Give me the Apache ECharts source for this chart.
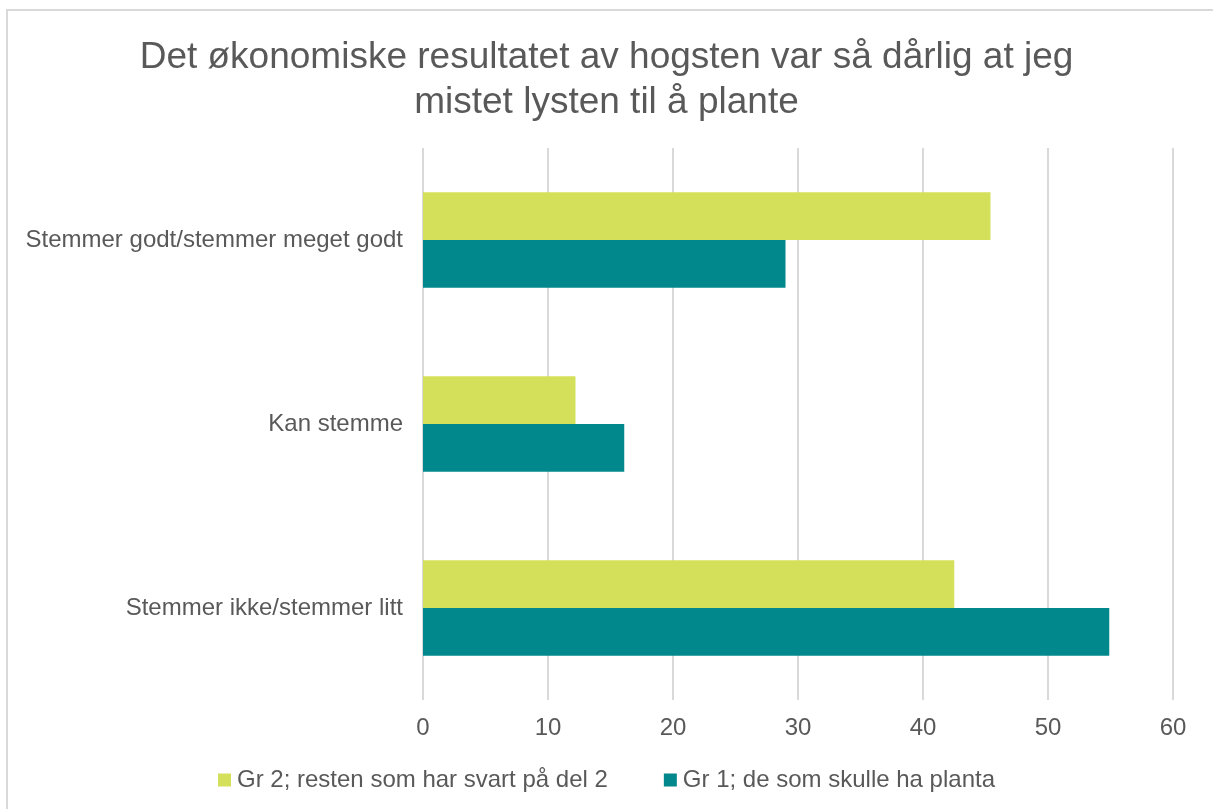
<!DOCTYPE html>
<html>
<head>
<meta charset="utf-8">
<script src="https://cdn.jsdelivr.net/npm/echarts@6/dist/echarts.min.js"></script>
<style>
  html, body { margin: 0; padding: 0; background: #fff; }
  #chart { width: 1213px; height: 809px; }
</style>
</head>
<body>
<div id="chart"></div>
<script>
// kategorier og verdier lest av figuren
const categories = ["Stemmer godt/stemmer meget godt", "Kan stemme", "Stemmer ikke/stemmer litt"];
const gr2Name = "Gr 2; resten som har svart på del 2";
const gr1Name = "Gr 1; de som skulle ha planta";
const gr2Values = [45.4, 12.2, 42.5];
const gr1Values = [29.0, 16.1, 54.9];

const textColor = "#595959";

const chart = echarts.init(document.getElementById("chart"), null, { renderer: "canvas" });

const option = {
    backgroundColor: "#ffffff",
    animation: false,
    title: {
        text: "Det økonomiske resultatet av hogsten var så dårlig at jeg\nmistet lysten til å plante",
        left: "center",
        top: 30,
        textStyle: {
            fontFamily: "Liberation Sans",
            fontSize: 37,
            fontWeight: "normal",
            color: textColor,
            lineHeight: 45,
        },
    },
    legend: {
        top: 763,
        left: "center",
        itemWidth: 13,
        itemHeight: 13,
        itemGap: 56,
        icon: "rect",
        textStyle: { fontFamily: "Liberation Sans", fontSize: 24, color: textColor, padding: [0, 0, 0, 1] },
        data: [gr2Name, gr1Name],
    },
    grid: { left: 423, right: 40, top: 148, bottom: 109 },
    xAxis: {
        type: "value",
        min: 0,
        max: 60,
        interval: 10,
        axisLine: { show: false },
        axisTick: { show: false },
        axisLabel: { fontFamily: "Liberation Sans", fontSize: 24, color: textColor, margin: 16 },
        splitLine: { lineStyle: { color: "#d9d9d9", width: 2 } },
    },
    yAxis: {
        type: "category",
        inverse: true,
        data: categories,
        axisLine: { show: false },
        axisTick: { show: false },
        axisLabel: { fontFamily: "Liberation Sans", fontSize: 24, color: textColor, margin: 20 },
    },
    series: [
        {
            name: gr2Name,
            type: "bar",
            data: gr2Values,
            barGap: "0%",
            barCategoryGap: "48%",
            itemStyle: { color: "#d4e05a" },
        },
        {
            name: gr1Name,
            type: "bar",
            data: gr1Values,
            barGap: "0%",
            barCategoryGap: "48%",
            itemStyle: { color: "#00888c" },
        },
    ],
    graphic: [
        {
            type: "rect",
            shape: { x: 7, y: 10, width: 1220, height: 820 },
            style: { fill: null, stroke: "#d9d9d9", lineWidth: 2 },
            silent: true,
        },
    ],
};

chart.setOption(option);
</script>
</body>
</html>
